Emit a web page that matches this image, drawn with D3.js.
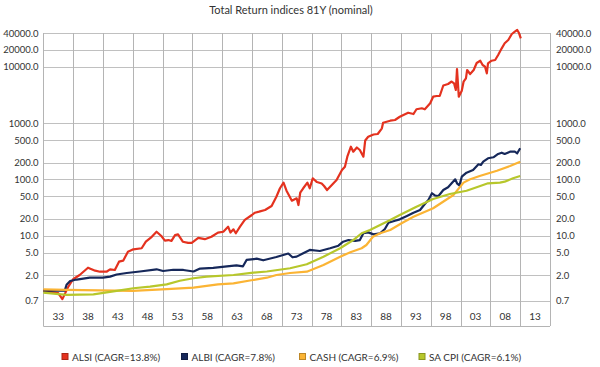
<!DOCTYPE html>
<html>
<head>
<meta charset="utf-8">
<script src="https://cdn.jsdelivr.net/npm/d3@7"></script>
<style>
  body { margin: 0; background: #fff; }
  text { font-family: Lato, "Open Sans", sans-serif; fill: #333; }
</style>
</head>
<body>
<svg width="600" height="367"></svg>
<script>
// values (year, index level)
var alsiYears = [1930.5,1933.0,1933.7,1934.7,1935.5,1936.6,1938.0,1939.2,1940.0,1941.1,1941.7,1942.5,1943.2,1943.9,1944.7,1945.6,1947.0,1947.7,1948.7,1949.5,1950.3,1950.9,1951.5,1952.0,1952.6,1953.1,1953.9,1954.8,1955.4,1956.5,1957.6,1958.7,1959.8,1960.7,1961.5,1961.9,1962.4,1962.8,1963.5,1964.3,1965.5,1966.0,1966.7,1967.7,1968.8,1969.6,1970.2,1970.8,1971.3,1972.2,1973.0,1973.3,1973.6,1974.1,1974.8,1975.2,1975.7,1976.4,1977.2,1977.6,1978.1,1978.9,1979.7,1980.6,1981.1,1981.5,1982.1,1982.5,1983.1,1983.6,1984.2,1984.5,1985.0,1985.9,1986.6,1987.3,1987.5,1988.7,1989.5,1990.3,1991.7,1992.6,1993.1,1994.0,1994.5,1995.4,1995.9,1996.5,1997.0,1997.6,1998.4,1999.0,1999.4,1999.7,1999.9,2000.2,2000.7,2001.0,2001.4,2001.6,2002.1,2002.7,2003.2,2003.8,2004.2,2004.6,2004.9,2005.1,2005.7,2006.3,2006.8,2007.4,2007.9,2008.5,2009.1,2009.6,2010.0,2010.3,2010.6];
var alsiValues = [1.05,0.96,0.75,1.25,1.69,2.01,2.71,2.40,2.30,2.30,2.54,2.47,3.47,3.61,5.21,5.75,6.0,7.85,9.6,11.8,9.9,8.2,8.4,8.1,10.3,10.6,7.85,7.5,7.5,9.2,8.7,9.6,11.4,11.8,14.5,11.4,13.0,11.1,14.5,19.1,23.4,25.7,26.8,28.7,33.8,49.4,69.8,87.7,63.2,42.0,46.3,35.2,58.2,69.8,87.7,69.8,105,90,85,76.6,65,79.8,98,147,169,254,382,312,370,334,254,493,575,630,643,811,1020,1107,1140,1303,1535,1455,1766,1841,1766,2255,2956,3040,3040,4670,4970,5500,5110,3890,9180,2956,3776,5460,6270,8810,7480,8810,11720,12880,10810,10070,7690,11590,12880,13250,16260,21380,26240,30060,38400,42170,45200,39900,32200];

var albiYears = [1930.5,1934.1,1934.4,1935.0,1936.1,1937.2,1938.3,1940.5,1941.7,1942.8,1944.5,1946.7,1949.5,1950.6,1952.3,1954.0,1955.7,1956.8,1959.0,1961.3,1962.9,1964.0,1964.6,1966.3,1967.4,1969.6,1971.6,1972.3,1973.0,1974.1,1975.2,1976.9,1978.6,1980.0,1980.8,1981.7,1982.8,1983.6,1984.2,1985.0,1985.9,1987.0,1987.8,1988.4,1989.5,1990.3,1991.5,1992.6,1993.7,1994.5,1995.1,1995.7,1996.2,1996.8,1997.6,1998.4,1999.6,1999.9,2000.3,2000.7,2001.5,2002.6,2003.5,2003.9,2004.3,2005.1,2006.0,2006.8,2007.4,2007.9,2008.8,2009.6,2010.0,2010.5];
var albiValues = [1.06,1.06,1.35,1.57,1.67,1.73,1.80,1.80,1.88,2.05,2.18,2.32,2.54,2.37,2.49,2.47,2.32,2.62,2.70,2.87,2.99,2.87,3.72,3.92,3.67,4.20,4.84,4.15,4.26,4.89,5.60,5.37,6.0,6.67,7.85,8.4,8.1,8.4,11.1,11.5,10.6,11.1,13.2,17.0,18.5,19.6,22.5,25.7,28.7,36.7,43.3,56.9,52.0,50.9,65.0,72.6,100.7,85.5,78.2,112,132,147,186,181,207,238,248,284,299,284,312,312,292,358];

var cashYears = [1930.5,1934.4,1945.5,1951.2,1955.7,1959.8,1962.4,1965.4,1968.0,1969.6,1971.9,1974.7,1977.5,1980.3,1982.0,1983.9,1984.7,1985.8,1987.0,1988.7,1990.6,1992.6,1995.9,1999.3,2001.0,2002.0,2003.7,2006.6,2008.8,2010.5];
var cashValues = [1.12,1.09,1.05,1.13,1.20,1.37,1.43,1.62,1.80,2.01,2.18,2.30,3.03,4.26,5.09,6.0,6.86,9.6,11.1,12.7,16.7,21.8,30.8,53.1,88,100,115,143,174,207];

var cpiYears = [1930.5,1934.4,1938.9,1942.8,1945.6,1948.4,1951.2,1953.4,1955.7,1957.9,1962.4,1965.4,1968.0,1971.9,1974.7,1977.5,1980.3,1982.5,1983.9,1985.3,1987.0,1988.7,1990.3,1993.1,1995.9,1998.7,2001.5,2003.8,2005.1,2007.1,2007.9,2009.3,2010.5];
var cpiValues = [0.975,0.89,0.91,1.05,1.17,1.25,1.37,1.59,1.76,1.88,2.01,2.20,2.32,2.65,3.12,4.26,6.0,8.4,11.1,12.7,15.6,19.1,23.4,32.9,45.1,55.2,63.2,76.6,85.5,87.7,91.4,105,115];

var seriesNames = ["ALSI (CAGR=13.8%)", "ALBI (CAGR=7.8%)", "CASH (CAGR=6.9%)", "SA CPI (CAGR=6.1%)"];
var seriesColors = ["#e4321f", "#16285a", "#fbb434", "#b7c72b"];

var yTicks = [0.7, 2, 5, 10, 20, 50, 100, 200, 500, 1000, 10000, 20000, 40000];
var xTickLabels = ["33","38","43","48","53","58","63","68","73","78","83","88","93","98","03","08","13"];
var xTickYears = [1933,1938,1943,1948,1953,1958,1963,1968,1973,1978,1983,1988,1993,1998,2003,2008,2013];

var svg = d3.select("svg"),
    plotLeft = 43.3, plotRight = 550, plotTop = 33, plotBottom = 326;

var x = d3.scaleLinear().domain([1930.5, 2015.5]).range([plotLeft, plotRight]);
var y = d3.scaleLog().domain([0.7, 40000]).range([300.8, plotTop]);

svg.append("text")
    .attr("x", 291).attr("y", 14)
    .attr("text-anchor", "middle")
    .style("font-size", "11px")
    .text("Total Return indices 81Y (nominal)");

// horizontal grid
svg.append("g").selectAll("line")
    .data(yTicks)
    .enter().append("line")
    .attr("x1", plotLeft).attr("x2", plotRight)
    .attr("y1", function(d) { return Math.round(y(d)) + 0.5; })
    .attr("y2", function(d) { return Math.round(y(d)) + 0.5; })
    .attr("stroke", "#c0c0c0");

// vertical grid, one line every 5 years
var bounds = xTickYears.map(function(d) { return d - 2.5; }).concat([2015.5]);
svg.append("g").selectAll("line")
    .data(bounds)
    .enter().append("line")
    .attr("x1", function(d) { return Math.round(x(d)) + 0.5; })
    .attr("x2", function(d) { return Math.round(x(d)) + 0.5; })
    .attr("y1", plotTop).attr("y2", plotBottom)
    .attr("stroke", "#b4b4b4");

svg.append("line")
    .attr("x1", plotLeft).attr("x2", plotRight)
    .attr("y1", plotBottom + 0.5).attr("y2", plotBottom + 0.5)
    .attr("stroke", "#b4b4b4");

svg.append("g").selectAll("text")
    .data(xTickYears)
    .enter().append("text")
    .attr("x", function(d) { return x(d); })
    .attr("y", 320)
    .attr("text-anchor", "middle")
    .style("font-size", "10px")
    .text(function(d, i) { return xTickLabels[i]; });

var fmt = d3.format(".1f");
svg.append("g").selectAll("text")
    .data(yTicks)
    .enter().append("text")
    .attr("x", 38.5)
    .attr("y", function(d) { return y(d) + 3.5; })
    .attr("text-anchor", "end")
    .style("font-size", "9.5px")
    .text(fmt);

svg.append("g").selectAll("text")
    .data(yTicks)
    .enter().append("text")
    .attr("x", 556)
    .attr("y", function(d) { return y(d) + 3.5; })
    .style("font-size", "9.5px")
    .text(fmt);

var series = [
    { years: alsiYears, values: alsiValues },
    { years: albiYears, values: albiValues },
    { years: cashYears, values: cashValues },
    { years: cpiYears, values: cpiValues }
];

var line = d3.line()
    .x(function(d) { return x(d[0]); })
    .y(function(d) { return y(d[1]); });

svg.append("g").selectAll("path")
    .data(series)
    .enter().append("path")
    .attr("fill", "none")
    .attr("stroke", function(d, i) { return seriesColors[i]; })
    .attr("stroke-width", 2.2)
    .attr("stroke-linejoin", "round")
    .attr("d", function(d) { return line(d3.zip(d.years, d.values)); });

// legend
var legendX = [61.5, 181, 299, 418.5];
var legend = svg.append("g").selectAll("g")
    .data(seriesNames)
    .enter().append("g")
    .attr("transform", function(d, i) { return "translate(" + legendX[i] + ",357)"; });

legend.append("rect")
    .attr("x", 0.5).attr("y", -3.5)
    .attr("width", 6).attr("height", 6)
    .attr("fill", function(d, i) { return seriesColors[i]; })
    .attr("stroke", function(d, i) { return d3.color(seriesColors[i]).darker(0.8); })
    .attr("stroke-width", 1);

legend.append("text")
    .attr("x", 10.5)
    .attr("y", 3.5)
    .style("font-size", "10px")
    .text(function(d) { return d; });
</script>
</body>
</html>
